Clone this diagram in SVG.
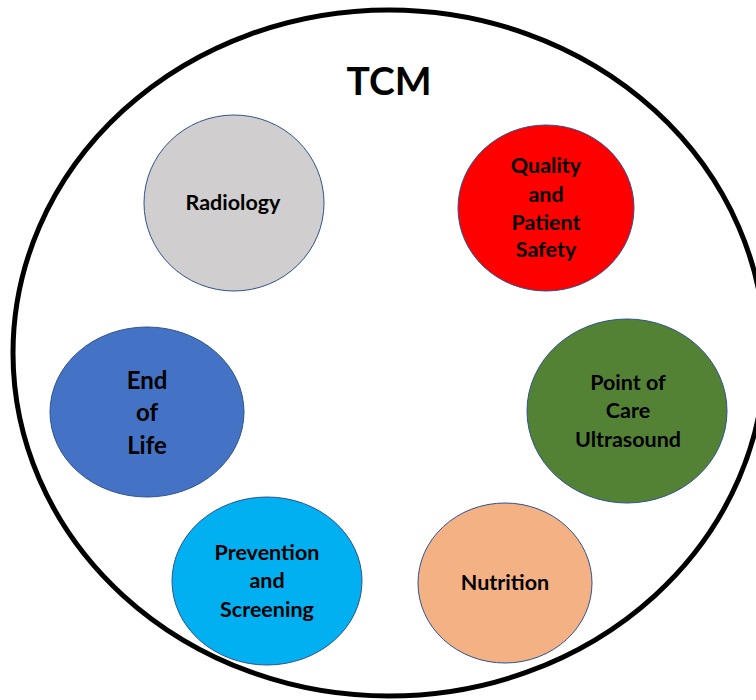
<svg xmlns="http://www.w3.org/2000/svg" width="756" height="700" viewBox="0 0 756 700">
  <style>
    .node { stroke: #2F528F; stroke-width: 1; }
    .lbl { font-family: Lato, "Open Sans", "Liberation Sans", sans-serif; font-weight: bold; font-size: 21.5px; fill: #000; text-anchor: middle; }
    .big { font-size: 24px; }
    .title { font-family: Lato, "Open Sans", "Liberation Sans", sans-serif; font-weight: bold; font-size: 39px; fill: #000; text-anchor: middle; }
  </style>
  <rect width="756" height="700" fill="#FFFFFF"/>
  <g id="tcm">
    <ellipse cx="389" cy="353" rx="376" ry="343" fill="none" stroke="#000" stroke-width="5"/>
    <text class="title" x="389" y="95">TCM</text>
  </g>
  <g id="connectors"></g>
  <g id="radiology">
    <ellipse class="node" cx="234" cy="203" rx="90" ry="88" fill="#D0CECE"/>
    <text class="lbl" x="233" y="210">Radiology</text>
  </g>
  <g id="quality">
    <ellipse class="node" cx="546" cy="208" rx="88" ry="83" fill="#FF0000"/>
    <text class="lbl" x="546" y="173">Quality</text>
    <text class="lbl" x="546" y="202">and</text>
    <text class="lbl" x="546" y="230">Patient</text>
    <text class="lbl" x="546" y="257">Safety</text>
  </g>
  <g id="end-of-life">
    <ellipse class="node" cx="147" cy="412" rx="97" ry="85" fill="#4472C4"/>
    <text class="lbl big" x="147" y="389">End</text>
    <text class="lbl big" x="147" y="421">of</text>
    <text class="lbl big" x="147" y="454">Life</text>
  </g>
  <g id="pocus">
    <ellipse class="node" cx="627" cy="411" rx="100" ry="92" fill="#548235"/>
    <text class="lbl" x="628" y="390">Point of</text>
    <text class="lbl" x="628" y="418">Care</text>
    <text class="lbl" x="628" y="447">Ultrasound</text>
  </g>
  <g id="prevention">
    <ellipse class="node" cx="267" cy="581" rx="95" ry="84" fill="#00B0F0"/>
    <text class="lbl" x="267" y="560">Prevention</text>
    <text class="lbl" x="267" y="588">and</text>
    <text class="lbl" x="267" y="617">Screening</text>
  </g>
  <g id="nutrition">
    <ellipse class="node" cx="505" cy="583" rx="87" ry="80" fill="#F4B183"/>
    <text class="lbl" x="505" y="590">Nutrition</text>
  </g>
</svg>
